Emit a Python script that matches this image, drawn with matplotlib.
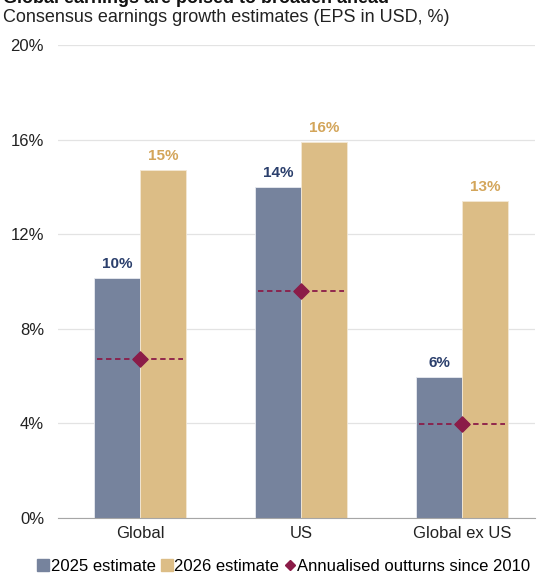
import numpy as np
import matplotlib.pyplot as plt
from matplotlib.lines import Line2D

plt.rcParams['font.family'] = ['Liberation Sans', 'DejaVu Sans']

regions = ["Global", "US", "Global ex US"]
est_2025 = [10.15, 14.0, 5.95]
est_2026 = [14.7, 15.9, 13.4]
outturns = [6.72, 9.6, 3.97]
yticks = [0, 4, 8, 12, 16, 20]

c25 = "#76839d"
c26 = "#dcbd86"
c_out = "#8b1c48"
lab25 = "#2b3f6c"
lab26 = "#d3a55a"

fig = plt.figure(figsize=(5.37, 5.77), dpi=100)
ax = fig.add_axes([0.108, 0.1023, 0.888, 0.8197])

x = np.arange(len(regions))
w = 0.285
ax.bar(x - w / 2, est_2025, w, color=c25, edgecolor="#e8eaf0", linewidth=0.6,
       label="2025 estimate", zorder=2)
ax.bar(x + w / 2, est_2026, w, color=c26, edgecolor="#f3e8d4", linewidth=0.6,
       label="2026 estimate", zorder=2)

for xi, v in zip(x - w / 2, est_2025):
    ax.text(xi, v + 0.3, f"{v:.0f}%", ha="center", va="bottom", fontsize=11,
            fontweight="bold", color=lab25)
for xi, v in zip(x + w / 2, est_2026):
    ax.text(xi, v + 0.3, f"{v:.0f}%", ha="center", va="bottom", fontsize=11,
            fontweight="bold", color=lab26)

# dashed outturn lines across each pair with a diamond in the middle
for xi, v in zip(x, outturns):
    ax.plot([xi - w + 0.02, xi + w - 0.02], [v, v], color=c_out, lw=1.3,
            ls=(0, (3, 2)), zorder=3)
ax.scatter(x, outturns, marker="D", s=60, color=c_out, zorder=4)

ax.set_xlim(-0.509, 2.453)
ax.set_ylim(0, 20)
ax.set_yticks(yticks)
ax.set_yticklabels([f"{t}%" for t in yticks], fontsize=12, color="#222222")
ax.set_xticks(x)
ax.set_xticklabels(regions, fontsize=12, color="#222222")
ax.grid(axis="y", color="#e3e3e3", lw=0.9, zorder=0)
ax.set_axisbelow(True)
for s in ["top", "right", "left"]:
    ax.spines[s].set_visible(False)
ax.spines["bottom"].set_color("#a6a6a6")
ax.tick_params(axis="x", length=0, pad=6)
ax.tick_params(axis="y", length=0, pad=10)

handles = [Line2D([], [], marker="s", ls="", color=c25, markersize=8),
           Line2D([], [], marker="s", ls="", color=c26, markersize=8),
           Line2D([], [], marker="D", ls="", color=c_out, markersize=5.5)]
fig.legend(handles, ["2025 estimate", "2026 estimate", "Annualised outturns since 2010"],
           loc="center", bbox_to_anchor=(0.528, 0.019), ncol=3, frameon=False,
           fontsize=12, handletextpad=0.05, columnspacing=0.25, handlelength=0.8)

fig.text(0.006, 1.003, "Global earnings are poised to broaden ahead", fontsize=13,
         fontweight="bold", va="center", ha="left", color="#111111")
fig.text(0.006, 0.97, "Consensus earnings growth estimates (EPS in USD, %)",
         fontsize=13, va="center", ha="left", color="#222222")

fig.savefig("out.png", dpi=100)
